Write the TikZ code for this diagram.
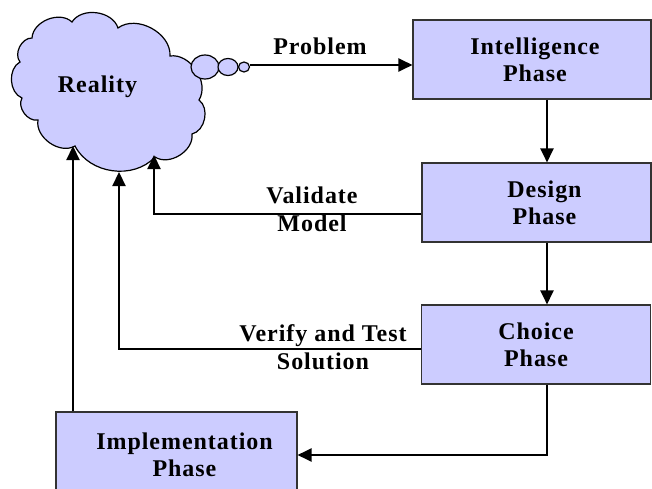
\documentclass[tikz,border=0pt]{standalone}
\usepackage{fontspec}
\setmainfont{Liberation Serif}[LetterSpace=4]
\usetikzlibrary{arrows.meta,calc}
\definecolor{lav}{HTML}{CCCCFF}
\begin{document}
\begin{tikzpicture}[x=1pt,y=-1pt,
  phase/.style={draw=black!80, line width=1.1pt, fill=lav, inner sep=0pt, align=center,
    font=\fontsize{24}{27}\selectfont\bfseries},
  lbl/.style={align=center, font=\fontsize{24}{28}\selectfont\bfseries, inner sep=0pt},
  cloudline/.style={draw=black, line width=1.2pt, fill=lav},
  conn/.style={line width=2.2pt, -{Triangle[length=14pt,width=13pt]}}]
\useasboundingbox (0,0) rectangle (652,489);

% cloud
\draw[cloudline] (22,98) to[bend left=65] (20,62) to[bend left=65] (32,38)
  to[bend left=65] (72,22) to[bend left=65] (118,28) to[bend left=65] (170,56)
  to[bend left=65] (199,100) to[bend left=65] (192,134) to[bend left=65] (155,157)
  to[bend left=55] (75,146) to[bend left=65] (38,120) to[bend left=65] (22,98) -- cycle;
\draw[cloudline] (205,67) ellipse [x radius=14pt, y radius=12pt];
\draw[cloudline] (228,67) ellipse [x radius=10pt, y radius=8.5pt];
\draw[cloudline] (244,67) ellipse [x radius=5.5pt, y radius=5pt];
\node[lbl, anchor=base] (reality) at (97.5,93) {Reality};

% phases
\node[phase, minimum width=238pt, minimum height=79pt] (intel) at (532,59.5)
  {\hspace*{6pt}Intelligence\\\hspace*{6pt}Phase};
\node[phase, minimum width=229pt, minimum height=79pt] (design) at (536.5,202.5)
  {\hspace*{16pt}Design\\\hspace*{16pt}Phase};
\node[phase, minimum width=229.5pt, minimum height=79pt] (choice) at (536,344.5)
  {Choice\\Phase};
\node[phase, minimum width=241pt, minimum height=86pt] (impl) at (176.5,455)
  {\hspace*{16pt}Implementation\\\hspace*{16pt}Phase};

% labels
\node[lbl, anchor=base] (prob) at (320,55) {Problem};
\node[lbl] (val) at (312,209) {Validate\\Model};
\node[lbl] (ver) at (323,347) {Verify and Test\\Solution};

% connectors
\coordinate (col) at (547,0);
\coordinate (ptail) at (249.5,65);
\coordinate (vtip) at (154,155);
\coordinate (ttip) at (119,172);
\coordinate (itip) at (73,146);
\draw[conn] (ptail) -- (ptail -| intel.west);
\draw[conn] (col |- intel.south) -- (col |- design.north);
\draw[conn] (col |- design.south) -- (col |- choice.north);
\draw[conn] (col |- choice.south) |- (impl.east);
\draw[conn] ([yshift=-11.5pt]design.west) -| (vtip);
\draw[conn] ([yshift=-4.5pt]choice.west) -| (ttip);
\draw[conn] (itip |- impl.north) -- (itip);
\end{tikzpicture}
\end{document}
